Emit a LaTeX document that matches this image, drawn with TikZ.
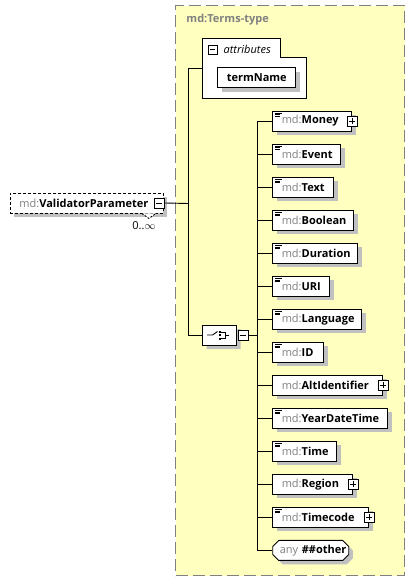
\documentclass[tikz,border=0pt]{standalone}
\usepackage{fontspec}
\setmainfont{Open Sans}
\usetikzlibrary{shapes.misc,shadows,positioning}
\definecolor{typefill}{HTML}{FFFFC0}
\definecolor{typeline}{HTML}{808080}
\definecolor{nsgray}{HTML}{808080}
\definecolor{shadegray}{HTML}{C0C0C0}
\newcommand{\mdname}[1]{\mbox{\color{nsgray}md:\color{black}\bfseries #1}}

\begin{document}
\begin{tikzpicture}[x=1pt,y=-1pt,line width=0.9pt,font=\fontsize{11}{13}\selectfont]
\useasboundingbox (0,0) rectangle (418,582);
\tikzstyle{typebox}=[draw=typeline,fill=typefill,line width=1.3pt,
dash pattern=on 12pt off 5pt,minimum width=229pt,minimum height=570pt]
\tikzstyle{elem}=[draw=black,fill=white,anchor=west,minimum height=20pt,
inner xsep=9pt,inner ysep=0pt,align=left,
general shadow={fill=shadegray,shadow xshift=4pt,shadow yshift=-4pt}]
\tikzstyle{simple}=[path picture={
\draw[line width=0.7pt] ([shift={(2,2.2)}]path picture bounding box.north west) -- ++(7,0);
\draw[line width=0.7pt] ([shift={(2,3.8)}]path picture bounding box.north west) -- ++(5,0);
\draw[line width=0.7pt] ([shift={(2,5.4)}]path picture bounding box.north west) -- ++(5,0);}]
\tikzstyle{minusbox}=[draw=black,fill=white,minimum size=10pt,inner sep=0pt,
path picture={\draw ([xshift=2pt]path picture bounding box.west) -- ([xshift=-2pt]path picture bounding box.east);}]
\tikzstyle{plusbox}=[draw=black,fill=white,minimum size=10pt,inner sep=0pt,
path picture={\draw ([xshift=2pt]path picture bounding box.west) -- ([xshift=-2pt]path picture bounding box.east);
\draw ([yshift=-2pt]path picture bounding box.north) -- ([yshift=2pt]path picture bounding box.south);}]
\tikzstyle{choicebox}=[draw=black,fill=white,chamfered rectangle,chamfered rectangle sep=6pt,
minimum width=34pt,minimum height=20pt,inner sep=0pt,
general shadow={fill=shadegray,shadow xshift=4pt,shadow yshift=-4pt}]

% complex type
\node[typebox] (terms) at (290.3,290.7) {};
\node[anchor=west,text=nsgray,font=\fontsize{11}{13}\selectfont\bfseries] (typename) at (182.7,20) {md:Terms-type};

% attributes
\node[minimum width=102.4pt,minimum height=59.3pt,inner sep=0pt] (attrs) at (254.5,68.65) {};
\draw[fill=white] (attrs.north west) -- ([xshift=-25.7pt]attrs.north east) -- ++(0,19) -| (attrs.south east) -- (attrs.south west) -- cycle;
\node[minusbox,minimum size=9pt] (aminus) at ([shift={(10,11)}]attrs.north west) {};
\node[anchor=west,font=\fontsize{11}{13}\selectfont\itshape] (attrlabel) at ([shift={(17,11)}]attrs.north west) {attributes};
\node[elem,minimum width=76pt,font=\fontsize{11}{13}\selectfont\bfseries] (termname) at (217.3,77.8) {termName};

% element
\node[elem,dash pattern=on 3pt off 2pt,text width=135pt] (vparam) at (10,203) {\mdname{ValidatorParameter}};
\draw[dash pattern=on 2pt off 1.5pt,fill=white] ([xshift=-22pt]vparam.south east) -- ++(7,5) -- ++(7,-5);
\node[minusbox] (vminus) at ([xshift=-4.5pt]vparam.east) {};
\node (mult) at (144,226) {0..$\infty$};

% choice
\node[choicebox] (choice) at (219.5,335) {};
\draw ([xshift=-12.5pt]choice.center) -- ++(5.5,0) -- ++(5,-3.5);
\fill ([shift={(-0.5,-4.5)}]choice.center) rectangle ++(2,2);
\fill ([shift={(-0.5,-1)}]choice.center) rectangle ++(2,2);
\fill ([shift={(-0.5,2.5)}]choice.center) rectangle ++(2,2);
\draw ([shift={(1.5,-3)}]choice.center) -- ++(4.5,0) -- ++(0,6) -- ++(-4.5,0);
\draw ([shift={(6,0)}]choice.center) -- ++(3,0);
\node[minusbox,right=1pt of choice] (cminus) {};

% children
\node[elem,simple,text width=61pt] (money) at (272.3,121) {\mdname{Money}};
\node[plusbox] (moneyplus) at (money.east) {};
\node[elem,simple,text width=50pt] (event) at (272.3,154) {\mdname{Event}};
\node[elem,simple,text width=43pt] (text) at (272.3,187.1) {\mdname{Text}};
\node[elem,simple,text width=63pt] (boolean) at (272.3,220.1) {\mdname{Boolean}};
\node[elem,simple,text width=67pt] (duration) at (272.3,253.1) {\mdname{Duration}};
\node[elem,simple,text width=39pt] (uri) at (272.3,286.2) {\mdname{URI}};
\node[elem,simple,text width=71pt] (language) at (272.3,319.2) {\mdname{Language}};
\node[elem,simple,text width=33pt] (id) at (272.3,352.2) {\mdname{ID}};
\node[elem,text width=92pt] (altid) at (272.3,385.2) {\mdname{AltIdentifier}};
\node[plusbox] (altidplus) at (altid.east) {};
\node[elem,simple,text width=97pt] (yeardate) at (272.3,418.3) {\mdname{YearDateTime}};
\node[elem,simple,text width=46pt] (time) at (272.3,451.3) {\mdname{Time}};
\node[elem,text width=62pt] (region) at (272.3,484.3) {\mdname{Region}};
\node[plusbox] (regionplus) at (region.east) {};
\node[elem,simple,text width=78pt] (timecode) at (272.3,517.4) {\mdname{Timecode}};
\node[plusbox] (timecodeplus) at (timecode.east) {};
\node[elem,chamfered rectangle,chamfered rectangle sep=3pt,inner xsep=4pt,text width=62pt] (anyother) at (272.3,550.4) {\mbox{\color{nsgray}any\ \color{black}\bfseries\#\#other}};

% connectors
\coordinate (fork) at (188.3,203.5);
\coordinate (spine) at (257.3,335);
\draw (vminus.east) -- (fork);
\draw (attrs.west) -| (fork);
\draw (fork) |- (choice.west);
\draw (cminus.east) -- (spine);
\draw (money.west -| spine) -- (anyother.west -| spine);
\draw (money.west) -- (money.west -| spine);
\draw (event.west) -- (event.west -| spine);
\draw (text.west) -- (text.west -| spine);
\draw (boolean.west) -- (boolean.west -| spine);
\draw (duration.west) -- (duration.west -| spine);
\draw (uri.west) -- (uri.west -| spine);
\draw (language.west) -- (language.west -| spine);
\draw (id.west) -- (id.west -| spine);
\draw (altid.west) -- (altid.west -| spine);
\draw (yeardate.west) -- (yeardate.west -| spine);
\draw (time.west) -- (time.west -| spine);
\draw (region.west) -- (region.west -| spine);
\draw (timecode.west) -- (timecode.west -| spine);
\draw (anyother.west) -- (anyother.west -| spine);

\end{tikzpicture}
\end{document}
